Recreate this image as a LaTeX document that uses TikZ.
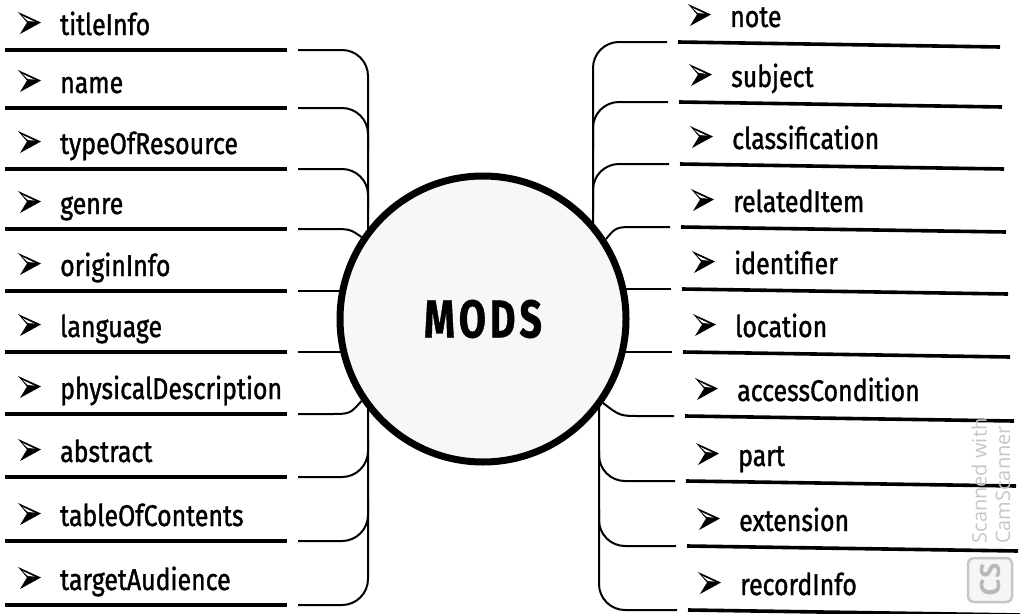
\documentclass[tikz,border=0pt]{standalone}
\usepackage{fontspec}
\usetikzlibrary{backgrounds}
\newfontfamily\itemfont{Fira Sans}[FakeStretch=0.83,FakeBold=1.2]
\newfontfamily\modsfont{Fira Sans}[FakeStretch=0.74,FakeBold=0.8]
\newfontfamily\markfont{Open Sans}
\tikzset{
  item/.style={font=\itemfont\fontsize{30}{30}\selectfont, inner sep=0pt, anchor=base west},
  rule/.style={line width=3.6pt},
  conn/.style={line width=2pt},
  elbow/.style={conn, rounded corners=26pt},
  hub/.style={circle, draw, line width=7pt, fill=gray!6, minimum size=286pt, inner sep=0pt,
              font=\modsfont\bfseries\fontsize{53}{53}\selectfont},
  chev/.pic={
    \fill (0,0) -- (23,10.5) -- (2,22) -- (9,10.5) -- cycle;
    \fill[white] (4.5,4) -- (16.5,9.6) -- (9.8,9) -- cycle;
  },
  wm/.style={font=\markfont\fontsize{20}{20}\selectfont, text=gray!45, rotate=90, inner sep=0pt}
}
\begin{document}
\begin{tikzpicture}[x=1pt,y=-1pt]
\useasboundingbox (0,0) rectangle (1025,613);

% central hub
\node[hub] (mods) at (483,319) {M\hspace{4pt}O\hspace{4pt}D\hspace{4pt}S};

% left-hand elements
\foreach \t/\y [count=\i] in {titleInfo/50,name/108,typeOfResource/169,genre/229,originInfo/291,
    language/352,physicalDescription/414,abstract/477,tableOfContents/541,targetAudience/605}{
  \node[item] (L\i) at (60,\y-15) {\t};
  \pic at (18,\y-38) {chev};
  \draw[rule] (5,\y) -- (287,\y);
  \coordinate (lt\i) at (298,\y);
}

% right-hand elements
\foreach \t/\y/\s [count=\i] in {note/42/0,subject/102/1,classification/164/2,relatedItem/227/3,
    identifier/289/4,location/352/5,accessCondition/416/7,part/481/8,extension/546/9,recordInfo/610/10}{
  \node[item] (R\i) at (730+\s,\y-15) {\t};
  \pic at (688+\s,\y-38) {chev};
  \draw[rule] (678+\s,\y) -- (1000+2*\s,\y+5);
  \coordinate (rt\i) at (667+\s,\y);
}

% spine ends, hidden behind the hub
\coordinate (sl) at (368,319);
\coordinate (sr1) at (593,300);
\coordinate (sr2) at (599,340);
% junctions on the spines
\coordinate (jl2) at (368,150);
\coordinate (jl3) at (368,210);
\coordinate (jl8) at (368,440);
\coordinate (jl9) at (368,500);
\coordinate (jr2) at (593,150);
\coordinate (jr3) at (593,210);
\coordinate (jr8) at (599,450);
\coordinate (jr9) at (599,510);

\begin{pgfonlayer}{background}
  % left connectors
  \draw[elbow] (lt1) -| (sl);
  \draw[elbow] (lt2) -| (jl2);
  \draw[elbow] (lt3) -| (jl3);
  \draw[conn] (lt4) -- (330,229) .. controls (350,229) .. (mods.146.6);
  \draw[conn] (lt5) -- (lt5 -| mods);
  \draw[conn] (lt6) -- (lt6 -| mods);
  \draw[conn] (lt7) -- (330,414) .. controls (350,414) .. (mods.214.5);
  \draw[elbow] (lt8) -| (jl8);
  \draw[elbow] (lt9) -| (jl9);
  \draw[elbow] (lt10) -| (sl);
  % right connectors
  \draw[elbow] (rt1) -| (sr1);
  \draw[elbow] (rt2) -| (jr2);
  \draw[elbow] (rt3) -| (jr3);
  \draw[conn] (rt4) -- (636,227) .. controls (616,227) .. (mods.33.6);
  \draw[conn] (rt5) -- (rt5 -| mods);
  \draw[conn] (rt6) -- (rt6 -| mods);
  \draw[conn] (rt7) -- (640,416) .. controls (620,416) .. (mods.325.5);
  \draw[elbow] (rt8) -| (jr8);
  \draw[elbow] (rt9) -| (jr9);
  \draw[elbow] (rt10) -| (sr2);
\end{pgfonlayer}

% scanner stamp
\node[wm] (wm1) at (979,481) {Scanned with};
\node[wm] (wm2) at (1003,485) {CamScanner};
\node[draw=gray!45, line width=2.5pt, rounded corners=6pt, fill=gray!8, minimum size=44pt,
      inner sep=0pt, text=gray!55, rotate=90, font=\markfont\bfseries\fontsize{28}{28}\selectfont]
      (cs) at (990,580) {CS};
\end{tikzpicture}
\end{document}
